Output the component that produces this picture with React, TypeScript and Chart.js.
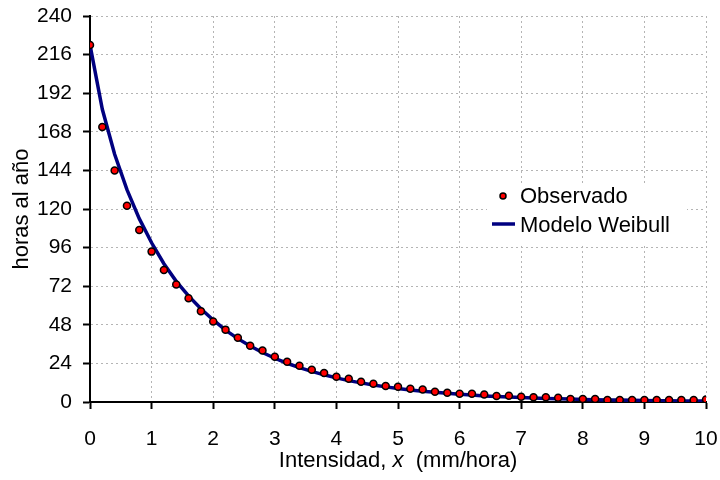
import React, { useEffect, useRef } from "react";
import { Chart, registerables } from "chart.js";

Chart.register(...registerables);

const xValues = [0, 0.2, 0.4, 0.6, 0.8, 1, 1.2, 1.4, 1.6, 1.8, 2, 2.2, 2.4, 2.6, 2.8, 3, 3.2, 3.4, 3.6, 3.8, 4, 4.2, 4.4, 4.6, 4.8, 5, 5.2, 5.4, 5.6, 5.8, 6, 6.2, 6.4, 6.6, 6.8, 7, 7.2, 7.4, 7.6, 7.8, 8, 8.2, 8.4, 8.6, 8.8, 9, 9.2, 9.4, 9.6, 9.8, 10];

const observado = [222, 171, 144, 122, 107, 93.5, 82, 73, 64.5, 56.5, 50, 45, 40, 35, 32, 28.2, 25, 22.6, 20, 18, 15.7, 14.5, 12.6, 11.4, 10, 9.5, 8.3, 7.7, 6.4, 5.8, 5.2, 5.2, 4.6, 3.8, 3.9, 3.3, 2.9, 2.9, 2.7, 1.9, 1.9, 1.9, 1.2, 1.2, 1.2, 1.2, 1.2, 1.2, 1.2, 1.2, 1.6];

const weibull = [222, 182, 154, 132, 114, 99, 86, 75, 66, 58, 51, 44.7, 39.4, 34.8, 30.8, 27.2, 24.1, 21.4, 19, 16.9, 15, 13.3, 11.9, 10.6, 9.4, 8.4, 7.5, 6.7, 6, 5.4, 4.8, 4.3, 3.8, 3.4, 3.1, 2.8, 2.5, 2.2, 2, 1.8, 1.6, 1.45, 1.3, 1.17, 1.05, 0.95, 0.85, 0.77, 0.69, 0.62, 0.56];

const xTicks = [0, 1, 2, 3, 4, 5, 6, 7, 8, 9, 10];
const yTicks = [0, 24, 48, 72, 96, 120, 144, 168, 192, 216, 240];

const seriesNames = ["Observado", "Modelo Weibull"];
const xTitleParts = ["Intensidad, ", "x", "  (mm/hora)"];
const yTitle = "horas al año";

const FONT = "'Liberation Sans', Arial, sans-serif";

const overlayPlugin = {
  id: "overlay",
  afterDraw(chart: any) {
    const ctx = chart.ctx;
    const area = chart.chartArea;
    ctx.save();
    // Legend box
    ctx.fillStyle = "#ffffff";
    ctx.fillRect(487, 183, 200, 60);
    // Observado marker
    ctx.beginPath();
    ctx.arc(503, 196, 3, 0, Math.PI * 2);
    ctx.fillStyle = "#ff0000";
    ctx.fill();
    ctx.lineWidth = 1.5;
    ctx.strokeStyle = "#000000";
    ctx.stroke();
    // Weibull line sample
    ctx.beginPath();
    ctx.moveTo(492, 224);
    ctx.lineTo(515, 224);
    ctx.lineWidth = 3.5;
    ctx.strokeStyle = "#000080";
    ctx.stroke();
    ctx.fillStyle = "#000000";
    ctx.font = `22px ${FONT}`;
    ctx.textAlign = "left";
    ctx.textBaseline = "middle";
    ctx.fillText(seriesNames[0], 520, 197);
    ctx.fillText(seriesNames[1], 520, 226);

    // Y title
    ctx.save();
    ctx.translate(28, (area.top + area.bottom) / 2);
    ctx.rotate(-Math.PI / 2);
    ctx.textAlign = "center";
    ctx.textBaseline = "alphabetic";
    ctx.font = `22px ${FONT}`;
    ctx.fillText(yTitle, 0, 0);
    ctx.restore();

    // X title with italic x
    const fonts = [`22px ${FONT}`, `italic 22px ${FONT}`, `22px ${FONT}`];
    let total = 0;
    const widths = xTitleParts.map((t, i) => {
      ctx.font = fonts[i];
      const w = ctx.measureText(t).width;
      total += w;
      return w;
    });
    let x = (area.left + area.right) / 2 - total / 2;
    ctx.textAlign = "left";
    ctx.textBaseline = "alphabetic";
    xTitleParts.forEach((t, i) => {
      ctx.font = fonts[i];
      ctx.fillText(t, x, 467);
      x += widths[i];
    });
    ctx.restore();
  },
};

export default function App() {
  const ref = useRef<HTMLCanvasElement>(null);
  useEffect(() => {
    if (!ref.current) return;
    const gridCommon = {
      color: "#b4b4b4",
      lineWidth: 1,
      drawTicks: true,
      tickLength: 7,
      tickColor: "#000000",
      tickWidth: 2,
      tickBorderDash: [],
    };
    const borderCommon = { display: true, color: "#000000", width: 2, dash: [2, 3] };
    const chart = new Chart(ref.current, {
      type: "scatter",
      data: {
        datasets: [
          {
            label: seriesNames[0],
            data: xValues.map((x, i) => ({ x, y: observado[i] })),
            showLine: false,
            pointRadius: 3.5,
            pointBorderWidth: 1.5,
            pointBackgroundColor: "#ff0000",
            pointBorderColor: "#000000",
          },
          {
            label: seriesNames[1],
            data: xValues.map((x, i) => ({ x, y: weibull[i] })),
            showLine: true,
            borderColor: "#000080",
            borderWidth: 3.5,
            pointRadius: 0,
            tension: 0,
          },
        ],
      },
      options: {
        responsive: false,
        animation: false,
        layout: { padding: { top: 16, right: 14, left: 0, bottom: 0 } },
        plugins: { legend: { display: false }, tooltip: { enabled: false } },
        scales: {
          x: {
            type: "linear",
            min: 0,
            max: 10,
            afterBuildTicks: (s: any) => {
              s.ticks = xTicks.map((v) => ({ value: v }));
            },
            afterFit: (s: any) => {
              s.height = 78;
              s.paddingLeft = 0;
              s.paddingRight = 0;
            },
            ticks: {
              font: { size: 21, family: FONT },
              color: "#000000",
              padding: 18,
              maxRotation: 0,
            },
            grid: gridCommon,
            border: borderCommon,
          },
          y: {
            type: "linear",
            min: 0,
            max: 240,
            afterBuildTicks: (s: any) => {
              s.ticks = yTicks.map((v) => ({ value: v }));
            },
            afterFit: (s: any) => {
              s.width = 90;
              s.paddingTop = 0;
              s.paddingBottom = 0;
            },
            ticks: {
              font: { size: 21, family: FONT },
              color: "#000000",
              padding: 11,
            },
            grid: gridCommon,
            border: borderCommon,
          },
        },
      },
      plugins: [overlayPlugin],
    } as any);
    return () => chart.destroy();
  }, []);
  return (
    <div style={{ position: "fixed", left: 0, top: 0, width: 720, height: 480, background: "#fff" }}>
      <canvas ref={ref} width={720} height={480} style={{ width: 720, height: 480 }} />
    </div>
  );
}
